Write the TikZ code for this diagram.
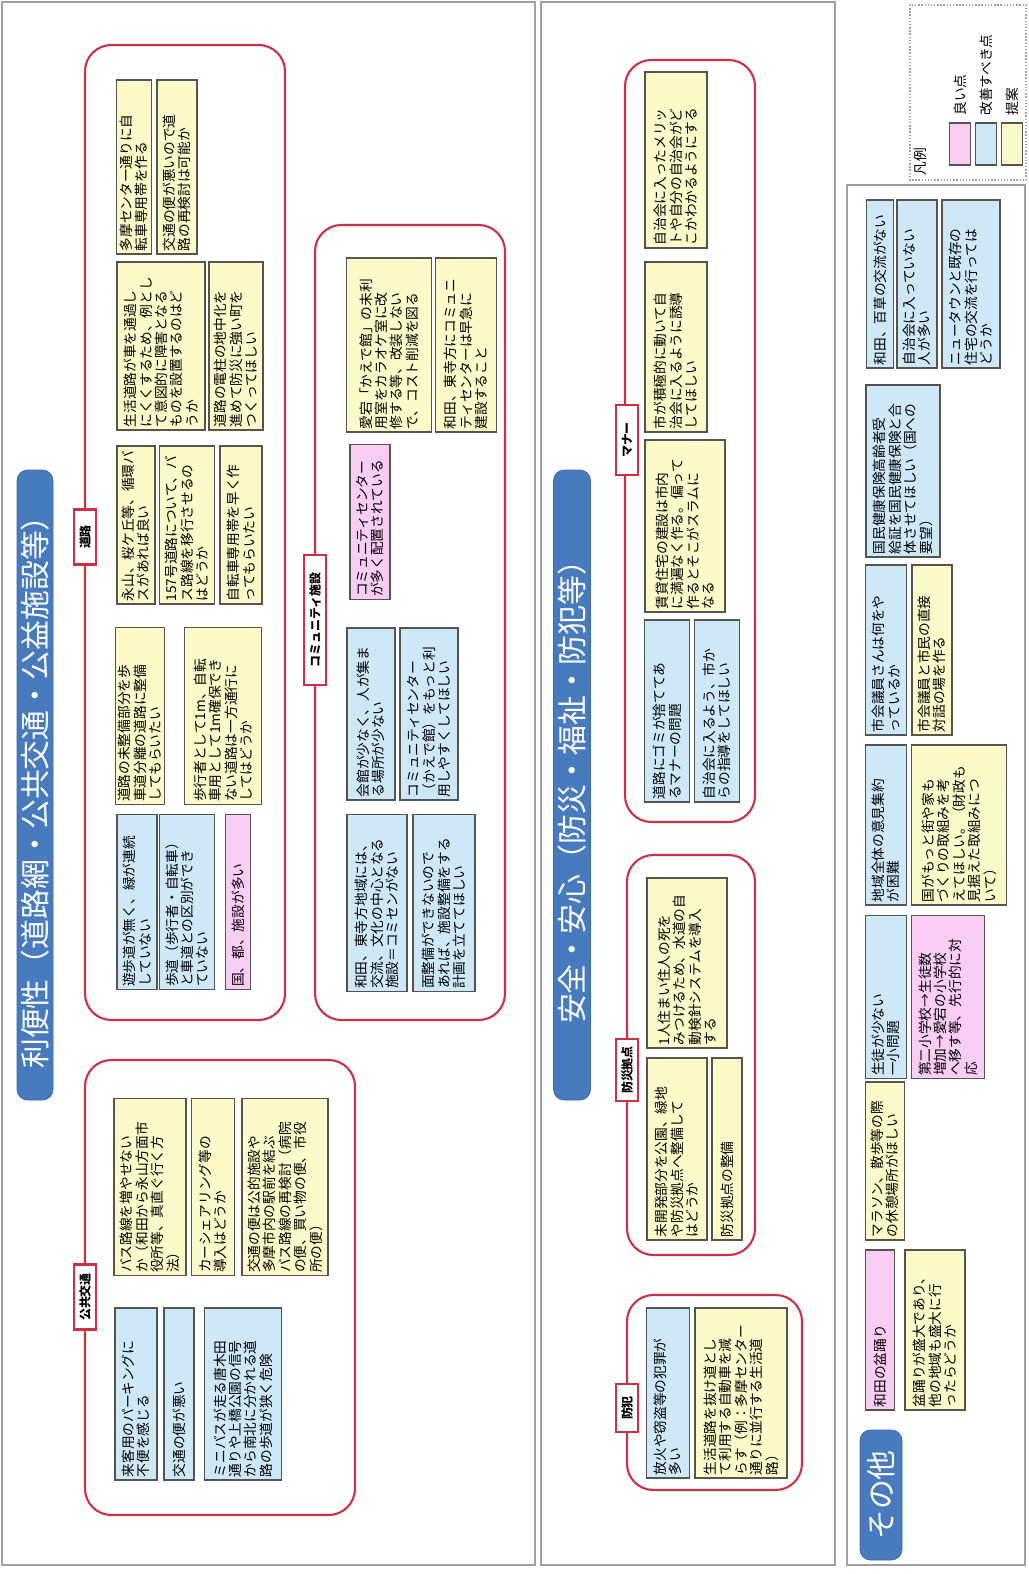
\documentclass[tikz,border=0pt]{standalone}
\usepackage{fontspec}
\setmainfont{Noto Sans CJK JP}
\usepackage{tikz}
\usetikzlibrary{positioning}
\definecolor{CellBlue}{RGB}{206,232,248}
\definecolor{CellYellow}{RGB}{252,250,200}
\definecolor{CellPink}{RGB}{250,205,245}
\definecolor{CellLine}{RGB}{85,85,80}
\definecolor{GroupRed}{RGB}{200,50,70}
\definecolor{TitleBlue}{RGB}{72,122,190}
\definecolor{PanelGray}{RGB}{160,160,160}
\newcommand{\cellfont}{\fontsize{7.8}{8.8}\selectfont}
\newcommand{\tagfont}{\fontsize{6.8}{8}\selectfont\bfseries}
\newcommand{\titlefont}{\fontsize{17}{20}\selectfont}
\tikzset{
  cellbox/.style={rectangle, draw=CellLine, line width=0.8pt, fill=#1,
                  rotate=90, font=\cellfont, align=left, inner sep=1.5pt},
  boxsize/.style 2 args={text width={#1*0.02cm-3pt}, minimum height={#2*0.02cm}},
  titlebox/.style={rectangle, rounded corners=6pt, draw=TitleBlue!85!black,
                   fill=TitleBlue, text=white, rotate=90, font=\titlefont,
                   align=center, inner sep=1.5pt},
  tagbox/.style={rectangle, draw=GroupRed, line width=1.2pt, fill=white,
                 rotate=90, font=\tagfont, inner sep=1pt},
  grpframe/.style={draw=GroupRed, line width=1.2pt, rounded corners=15pt},
  panelframe/.style={draw=PanelGray, line width=0.8pt},
  swatchbox/.style={rectangle, draw=CellLine, line width=0.8pt, fill=#1,
                    minimum width=42*0.02cm, minimum height=21*0.02cm, rotate=90},
  legtext/.style={rotate=90, font=\cellfont, anchor=west, inner sep=0pt},
}
\begin{document}
\begin{tikzpicture}[x=0.02cm, y=-0.02cm]
  \useasboundingbox (0,0) rectangle (1028,1574);

  % panels
  \draw[panelframe] (2,2) rectangle (535,1565);
  \draw[panelframe] (541,2) rectangle (835,1565);
  \draw[panelframe] (847,185) rectangle (1025,1565);
  \draw[panelframe, densely dotted] (910,5) rectangle (1026,180);

  % titles
  \node[titlebox, boxsize={630}{36}] (tBenri) at (35,785) {利便性（道路網・公共交通・公益施設等）};
  \node[titlebox, boxsize={630}{37}] (tAnzen) at (572,785) {安全・安心（防災・福祉・防犯等）};
  \node[titlebox, boxsize={130}{42}] (tSonota) at (881,1495) {その他};

  % group frames
  \draw[grpframe] (85,45) rectangle (285,1020);
  \draw[grpframe] (315,225) rectangle (505,1020);
  \draw[grpframe] (85,1060) rectangle (355,1515);
  \draw[grpframe] (625,60) rectangle (755,822);
  \draw[grpframe] (627,855) rectangle (755,1255);
  \draw[grpframe] (627,1295) rectangle (802,1490);

  % group tags
  \node[tagbox, minimum width=55*0.02cm, minimum height=22*0.02cm] (gRoad) at (85,537) {道路};
  \node[tagbox, minimum width=130*0.02cm, minimum height=22*0.02cm] (gComm) at (315,620) {コミュニティ施設};
  \node[tagbox, minimum width=65*0.02cm, minimum height=22*0.02cm] (gBus) at (85,1297) {公共交通};
  \node[tagbox, minimum width=70*0.02cm, minimum height=22*0.02cm] (gManner) at (627,440) {マナー};
  \node[tagbox, minimum width=62*0.02cm, minimum height=22*0.02cm] (gBousai) at (627,1070) {防災拠点};
  \node[tagbox, minimum width=48*0.02cm, minimum height=22*0.02cm] (gBouhan) at (627,1408) {防犯};

  % 道路
  \node[cellbox=CellBlue, boxsize={175}{40}] (road1) at (137,902) {遊歩道が無く、緑が連続\\していない};
  \node[cellbox=CellBlue, boxsize={175}{55}] (road2) at (187,902) {歩道（歩行者・自転車）\\と車道との区別ができ\\ていない};
  \node[cellbox=CellPink, boxsize={175}{25}] (road3) at (238,902) {国、都、施設が多い};
  \node[cellbox=CellYellow, boxsize={177}{46}] (road4) at (140,716) {道路の未整備部分を歩\\車道分離の道路に整備\\してもらいたい};
  \node[cellbox=CellYellow, boxsize={177}{77}] (road5) at (223,716) {歩行者として1m、自転\\車用として1m確保でき\\ない道路は一方通行に\\してはどうか};
  \node[cellbox=CellYellow, boxsize={158}{38}] (road6) at (136,525) {永山、桜ケ丘等、循環バ\\スがあれば良い};
  \node[cellbox=CellYellow, boxsize={158}{55}] (road7) at (187,525) {157号道路について、バ\\ス路線を移行させるの\\はどうか};
  \node[cellbox=CellYellow, boxsize={158}{42}] (road8) at (241,525) {自転車専用帯を早く作\\ってもらいたい};
  \node[cellbox=CellYellow, boxsize={168}{88}] (road9) at (161,346) {生活道路が車を通過し\\にくくするため、例とし\\て意図的に障害となる\\ものを設置するのはど\\うか};
  \node[cellbox=CellYellow, boxsize={168}{54}] (road10) at (236,346) {道路の電柱の地中化を\\進めて防災に強い町を\\つくってほしい};
  \node[cellbox=CellYellow, boxsize={174}{35}] (road11) at (134,167) {多摩センター通りに自\\転車専用帯を作る};
  \node[cellbox=CellYellow, boxsize={174}{40}] (road12) at (177,167) {交通の便が悪いので道\\路の再検討は可能か};

  % コミュニティ施設
  \node[cellbox=CellBlue, boxsize={177}{60}] (comm1) at (377,903) {和田、東寺方地域には、\\交流、文化の中心となる\\施設＝コミセンがない};
  \node[cellbox=CellBlue, boxsize={177}{62}] (comm2) at (444,903) {面整備ができないので\\あれば、施設整備をする\\計画を立ててほしい};
  \node[cellbox=CellBlue, boxsize={172}{48}] (comm3) at (371,714) {会館が少なく、人が集ま\\る場所が少ない};
  \node[cellbox=CellBlue, boxsize={172}{58}] (comm4) at (429,714) {コミュニティセンター\\（かえで館）をもっと利\\用しやすくしてほしい};
  \node[cellbox=CellPink, boxsize={155}{40}] (comm5) at (370,522) {コミュニティセンター\\が多く配置されている};
  \node[cellbox=CellYellow, boxsize={174}{85}] (comm6) at (389,345) {愛宕「かえで館」の未利\\用室をカラオケ室に改\\修する等、改装しない\\で、コスト削減を図る};
  \node[cellbox=CellYellow, boxsize={174}{61}] (comm7) at (466,345) {和田、東寺方にコミュニ\\ティセンターは早急に\\建設すること};

  % 公共交通
  \node[cellbox=CellBlue, boxsize={172}{42}] (bus1) at (136,1394) {来客用のパーキングに\\不便を感じる};
  \node[cellbox=CellBlue, boxsize={172}{30}] (bus2) at (179,1394) {交通の便が悪い};
  \node[cellbox=CellBlue, boxsize={172}{77}] (bus3) at (243,1394) {ミニバスが走る唐木田\\通りや上橋公園の信号\\から南北に分かれる道\\路の歩道が狭く危険};
  \node[cellbox=CellYellow, boxsize={177}{72}] (bus4) at (150,1187) {バス路線を増やせない\\か（和田から永山方面市\\役所等、真直ぐ行く方\\法）};
  \node[cellbox=CellYellow, boxsize={177}{43}] (bus5) at (213,1187) {カーシェアリング等の\\導入はどうか};
  \node[cellbox=CellYellow, boxsize={177}{86}] (bus6) at (285,1187) {交通の便は公的施設や\\多摩市内の駅前を結ぶ\\バス路線の再検討（病院\\の便、買い物の便、市役\\所の便）};

  % マナー
  \node[cellbox=CellBlue, boxsize={182}{45}] (mnr1) at (667,711) {道路にゴミが捨ててあ\\るマナーの問題};
  \node[cellbox=CellBlue, boxsize={182}{45}] (mnr2) at (717,711) {自治会に入るよう、市か\\らの指導をしてほしい};
  \node[cellbox=CellYellow, boxsize={172}{80}] (mnr3) at (685,526) {賃貸住宅の建設は市内\\に満遍なく作る。偏って\\作るとそこがスラムに\\なる};
  \node[cellbox=CellYellow, boxsize={170}{62}] (mnr4) at (676,347) {市が積極的に動いて自\\治会に入るように誘導\\してほしい};
  \node[cellbox=CellYellow, boxsize={176}{62}] (mnr5) at (676,160) {自治会に入ったメリッ\\トや自分の自治会がど\\こかわかるようにする};

  % 防災拠点
  \node[cellbox=CellYellow, boxsize={182}{60}] (bsi1) at (677,1149) {未開発部分を公園、緑地\\や防災拠点へ整備して\\はどうか};
  \node[cellbox=CellYellow, boxsize={182}{30}] (bsi2) at (727,1149) {防災拠点の整備};
  \node[cellbox=CellYellow, boxsize={170}{80}] (bsi3) at (687,963) {1人住まい住人の死を\\みつけるため、水道の自\\動検針システムを導入\\する};

  % 防犯
  \node[cellbox=CellBlue, boxsize={170}{43}] (bhn1) at (668,1393) {放火や窃盗等の犯罪が\\多い};
  \node[cellbox=CellYellow, boxsize={170}{92}] (bhn2) at (741,1393) {生活道路を抜け道とし\\て利用する自動車を減\\らす（例：多摩センター\\通りに並行する生活道\\路）};

  % その他
  \node[cellbox=CellBlue, boxsize={168}{27}] (oth1) at (880,284) {和田、百草の交流がない};
  \node[cellbox=CellBlue, boxsize={168}{40}] (oth2) at (917,284) {自治会に入っていない\\人が多い};
  \node[cellbox=CellBlue, boxsize={168}{58}] (oth3) at (971,284) {ニュータウンと既存の\\住宅の交流を行っては\\どうか};
  \node[cellbox=CellBlue, boxsize={172}{74}] (oth4) at (903,471) {国民健康保険高齢者受\\給証を国民健康保険と合\\体させてほしい（国への\\要望）};
  \node[cellbox=CellBlue, boxsize={170}{41}] (oth5) at (886,650) {市会議員さんは何をや\\っているか};
  \node[cellbox=CellYellow, boxsize={170}{40}] (oth6) at (932,650) {市会議員と市民の直接\\対話の場を作る};
  \node[cellbox=CellBlue, boxsize={160}{41}] (oth7) at (886,825) {地域全体の意見集約\\が困難};
  \node[cellbox=CellYellow, boxsize={160}{95}] (oth8) at (959,825) {国がもっと街や家も\\づくりの取組みを考\\えてほしい。（財政も\\見据えた取組みにつ\\いて）};
  \node[cellbox=CellBlue, boxsize={163}{41}] (oth9) at (886,997) {生徒が少ない\\一小問題};
  \node[cellbox=CellPink, boxsize={163}{73}] (oth10) at (948,997) {第二小学校→生徒数\\増加→愛宕の小学校\\へ移す等、先行的に対\\応};
  \node[cellbox=CellYellow, boxsize={158}{39}] (oth11) at (885,1161) {マラソン、散歩等の際\\の休憩場所がほしい};
  \node[cellbox=CellPink, boxsize={160}{29}] (oth12) at (880,1330) {和田の盆踊り};
  \node[cellbox=CellYellow, boxsize={160}{60}] (oth13) at (935,1330) {盆踊りが盛大であり、\\他の地域も盛大に行\\ったらどうか};

  % 凡例
  \node[rotate=90, font=\cellfont] (lgTitle) at (920,162) {凡例};
  \node[swatchbox=CellPink] (lgPink) at (960,144) {};
  \node[swatchbox=CellBlue] (lgBlue) at (986,144) {};
  \node[swatchbox=CellYellow] (lgYellow) at (1012,144) {};
  \node[legtext] (lgGood) at (960,116) {良い点};
  \node[legtext] (lgFix) at (986,116) {改善すべき点};
  \node[legtext] (lgIdea) at (1012,116) {提案};
\end{tikzpicture}
\end{document}
